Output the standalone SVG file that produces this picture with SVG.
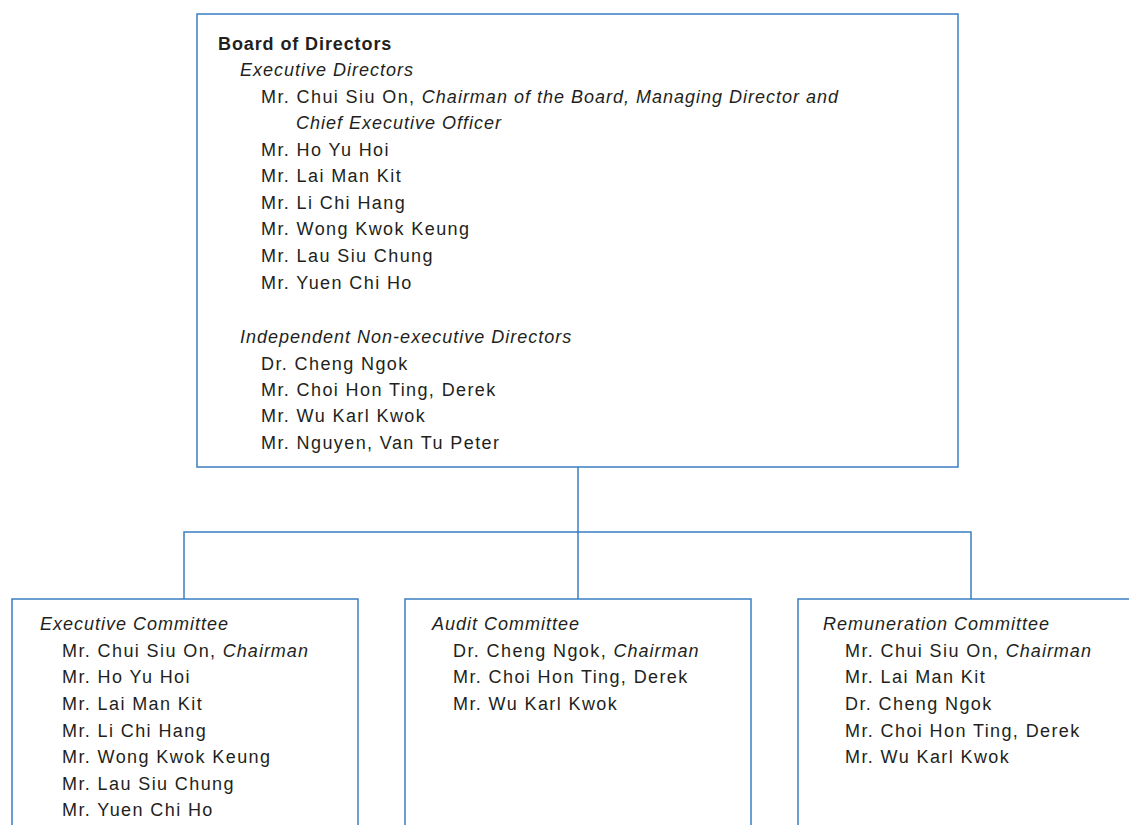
<svg xmlns="http://www.w3.org/2000/svg" width="1129" height="825" viewBox="0 0 1129 825">
<style>
.box{fill:#fff;stroke:#3b7fc1;stroke-width:1.5}
.ln{fill:none;stroke:#3b7fc1;stroke-width:1.5}
text{font-family:"Liberation Sans",Arial,sans-serif;font-size:18px;fill:#231f20;letter-spacing:1.4px}
.b{font-weight:bold;letter-spacing:0.9px}
.i{font-style:italic;letter-spacing:1px}
</style>
<rect width="1129" height="825" fill="#fff"/>
<g id="connectors">
<path class="ln" d="M578,467 V599 M184,599 V532 H971 V599"/>
</g>
<g id="board">
<rect class="box" x="197" y="14" width="761" height="453"/>
<text x="218" y="50" class="b">Board of Directors</text>
<text x="240" y="76" class="i">Executive Directors</text>
<text x="261" y="103">Mr. Chui Siu On, <tspan class="i">Chairman of the Board, Managing Director and</tspan></text>
<text x="296" y="129" class="i">Chief Executive Officer</text>
<text x="261" y="156">Mr. Ho Yu Hoi</text>
<text x="261" y="182">Mr. Lai Man Kit</text>
<text x="261" y="209">Mr. Li Chi Hang</text>
<text x="261" y="235">Mr. Wong Kwok Keung</text>
<text x="261" y="262">Mr. Lau Siu Chung</text>
<text x="261" y="289">Mr. Yuen Chi Ho</text>
<text x="240" y="343" class="i">Independent Non-executive Directors</text>
<text x="261" y="370">Dr. Cheng Ngok</text>
<text x="261" y="396">Mr. Choi Hon Ting, Derek</text>
<text x="261" y="422">Mr. Wu Karl Kwok</text>
<text x="261" y="449">Mr. Nguyen, Van Tu Peter</text>
</g>
<g id="exec">
<rect class="box" x="12" y="599" width="346" height="240"/>
<text x="40" y="630" class="i">Executive Committee</text>
<text x="62" y="657">Mr. Chui Siu On, <tspan class="i">Chairman</tspan></text>
<text x="62" y="683">Mr. Ho Yu Hoi</text>
<text x="62" y="710">Mr. Lai Man Kit</text>
<text x="62" y="737">Mr. Li Chi Hang</text>
<text x="62" y="763">Mr. Wong Kwok Keung</text>
<text x="62" y="790">Mr. Lau Siu Chung</text>
<text x="62" y="816">Mr. Yuen Chi Ho</text>
</g>
<g id="audit">
<rect class="box" x="405" y="599" width="346" height="240"/>
<text x="432" y="630" class="i">Audit Committee</text>
<text x="453" y="657">Dr. Cheng Ngok, <tspan class="i">Chairman</tspan></text>
<text x="453" y="683">Mr. Choi Hon Ting, Derek</text>
<text x="453" y="710">Mr. Wu Karl Kwok</text>
</g>
<g id="remun">
<rect class="box" x="798" y="599" width="346" height="240"/>
<text x="823" y="630" class="i">Remuneration Committee</text>
<text x="845" y="657">Mr. Chui Siu On, <tspan class="i">Chairman</tspan></text>
<text x="845" y="683">Mr. Lai Man Kit</text>
<text x="845" y="710">Dr. Cheng Ngok</text>
<text x="845" y="737">Mr. Choi Hon Ting, Derek</text>
<text x="845" y="763">Mr. Wu Karl Kwok</text>
</g>
</svg>
